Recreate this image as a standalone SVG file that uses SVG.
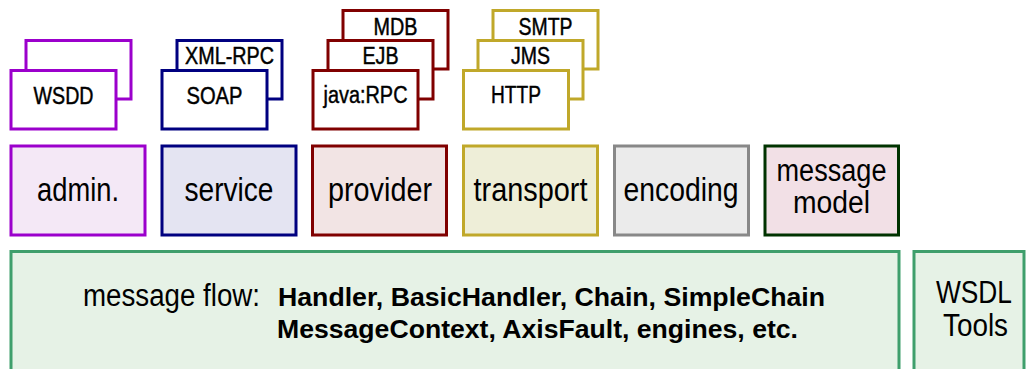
<svg xmlns="http://www.w3.org/2000/svg" width="1026" height="369" viewBox="0 0 1026 369">
  <style>
    rect { stroke-width: 3; }
    text { font-family: "Liberation Sans Narrow", "Liberation Sans", Arial, sans-serif; fill: #000; text-anchor: middle; }
    .sm { font-size: 23px; stroke: #000; stroke-width: 0.45; }
    .lg { font-size: 33px; }
    .two { font-size: 31px; }
    .bd { font-family: "Liberation Sans", Arial, sans-serif; font-weight: bold; font-size: 26px; text-anchor: start; }
    .card { fill: #ffffff; }
    .purple { stroke: #9b00cc; }
    .navy { stroke: #000080; }
    .maroon { stroke: #800000; }
    .gold { stroke: #c0a82a; }
    .grey { stroke: #888888; }
    .dkgreen { stroke: #003300; }
    .green { stroke: #3f9f6c; fill: #e6f2e6; }
  </style>

  <!-- stacked implementation cards -->
  <g id="admin-impl">
    <rect class="card purple" x="26" y="40.5" width="105" height="58.5"/>
    <rect class="card purple" x="11" y="70.5" width="105" height="58.5"/>
    <text class="sm" x="63.5" y="104" textLength="60" lengthAdjust="spacingAndGlyphs">WSDD</text>
  </g>
  <g id="service-impl">
    <rect class="card navy" x="177" y="40.5" width="105" height="58.5"/>
    <text class="sm" x="229.5" y="64" textLength="89" lengthAdjust="spacingAndGlyphs">XML-RPC</text>
    <rect class="card navy" x="162" y="70.5" width="105" height="58.5"/>
    <text class="sm" x="214.5" y="104" textLength="56" lengthAdjust="spacingAndGlyphs">SOAP</text>
  </g>
  <g id="provider-impl">
    <rect class="card maroon" x="343" y="10.5" width="105" height="58.5"/>
    <text class="sm" x="395.5" y="35" textLength="44" lengthAdjust="spacingAndGlyphs">MDB</text>
    <rect class="card maroon" x="328" y="40.5" width="105" height="58.5"/>
    <text class="sm" x="380.5" y="64" textLength="36" lengthAdjust="spacingAndGlyphs">EJB</text>
    <rect class="card maroon" x="313" y="70.5" width="105" height="58.5"/>
    <text class="sm" x="365.5" y="103" textLength="84" lengthAdjust="spacingAndGlyphs">java:RPC</text>
  </g>
  <g id="transport-impl">
    <rect class="card gold" x="493" y="10.5" width="105" height="58.5"/>
    <text class="sm" x="545.5" y="35" textLength="54" lengthAdjust="spacingAndGlyphs">SMTP</text>
    <rect class="card gold" x="478" y="40.5" width="105" height="58.5"/>
    <text class="sm" x="530.5" y="64" textLength="39" lengthAdjust="spacingAndGlyphs">JMS</text>
    <rect class="card gold" x="463.5" y="70.5" width="105" height="58.5"/>
    <text class="sm" x="516" y="103" textLength="50" lengthAdjust="spacingAndGlyphs">HTTP</text>
  </g>

  <!-- subsystem boxes -->
  <g id="admin">
    <rect class="purple" fill="#f4e8f6" x="11" y="146" width="134" height="89"/>
    <text class="lg" x="78" y="201" textLength="82" lengthAdjust="spacingAndGlyphs">admin.</text>
  </g>
  <g id="service">
    <rect class="navy" fill="#e4e4f2" x="162" y="146" width="134" height="89"/>
    <text class="lg" x="229" y="201" textLength="89" lengthAdjust="spacingAndGlyphs">service</text>
  </g>
  <g id="provider">
    <rect class="maroon" fill="#f2e4e4" x="312.5" y="146" width="134" height="89"/>
    <text class="lg" x="380" y="201" textLength="104" lengthAdjust="spacingAndGlyphs">provider</text>
  </g>
  <g id="transport">
    <rect class="gold" fill="#eeeed8" x="463.5" y="146" width="134" height="89"/>
    <text class="lg" x="530.5" y="201" textLength="114" lengthAdjust="spacingAndGlyphs">transport</text>
  </g>
  <g id="encoding">
    <rect class="grey" fill="#ebebeb" x="614.5" y="146" width="134" height="89"/>
    <text class="lg" x="681" y="201" textLength="115" lengthAdjust="spacingAndGlyphs">encoding</text>
  </g>
  <g id="message-model">
    <rect class="dkgreen" fill="#f2e0e6" x="765" y="146" width="133.5" height="89"/>
    <text class="two" x="831.5" y="181" textLength="110" lengthAdjust="spacingAndGlyphs">message</text>
    <text class="two" x="831.5" y="213" textLength="77" lengthAdjust="spacingAndGlyphs">model</text>
  </g>

  <!-- core layer -->
  <g id="message-flow">
    <rect class="green" x="11" y="251.5" width="888" height="130"/>
    <text x="171.5" y="306" style="font-size:31px" textLength="177" lengthAdjust="spacingAndGlyphs">message flow:</text>
    <text class="bd" x="278" y="306" textLength="547" lengthAdjust="spacingAndGlyphs">Handler, BasicHandler, Chain, SimpleChain</text>
    <text class="bd" x="277" y="338" textLength="521" lengthAdjust="spacingAndGlyphs">MessageContext, AxisFault, engines, etc.</text>
  </g>
  <g id="wsdl-tools">
    <rect class="green" x="914" y="251.5" width="110" height="130"/>
    <text class="two" x="974" y="303" textLength="76" lengthAdjust="spacingAndGlyphs">WSDL</text>
    <text class="two" x="975.5" y="336" textLength="65" lengthAdjust="spacingAndGlyphs">Tools</text>
  </g>
</svg>
